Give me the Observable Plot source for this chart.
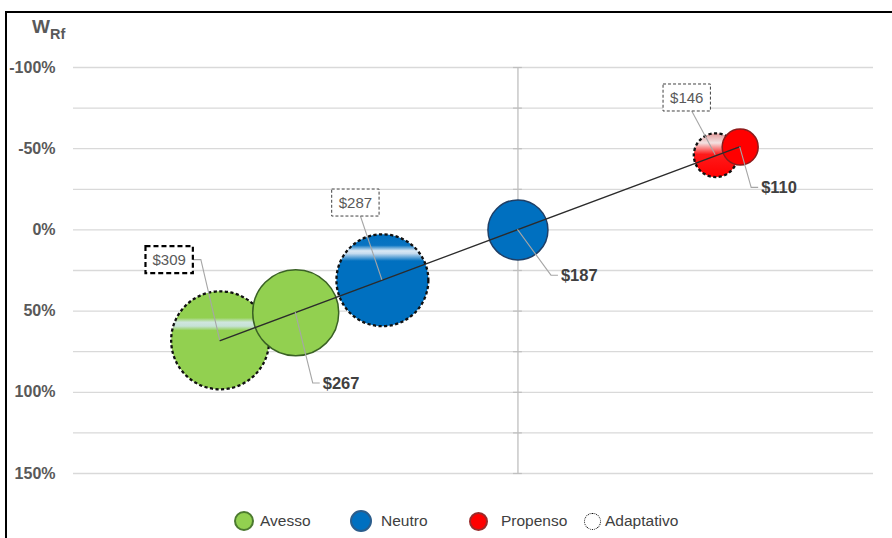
<!DOCTYPE html>
<html>
<head>
<meta charset="utf-8">
<script src="https://cdn.jsdelivr.net/npm/d3@7"></script>
<script src="https://cdn.jsdelivr.net/npm/@observablehq/plot@0.6"></script>
<style>
  html, body { margin: 0; padding: 0; background: #fff; }
  #chart { position: relative; width: 892px; height: 538px; overflow: hidden; font-family: "Liberation Sans", Arial, sans-serif; }
  #chart > svg { position: absolute; left: 0; top: 0; }
  #frame { position: absolute; left: 5px; top: 11px; width: 920px; height: 560px; border-left: 2px solid #000; border-top: 2px solid #000; box-sizing: border-box; pointer-events: none; }
  #ylab { position: absolute; left: 32px; top: 17px; font-weight: bold; color: #595959; font-size: 19px; line-height: 20px; }
  #ylab sub { font-size: 14.5px; vertical-align: -6px; }
  #legend { position: absolute; left: 0; top: 509px; width: 892px; height: 24px; font-size: 15.5px; color: #404040; }
  .item { position: absolute; top: 0; height: 24px; display: flex; align-items: center; }
  .sw { display: inline-block; border-radius: 50%; box-sizing: border-box; }
</style>
</head>
<body>
<div id="chart">
  <div id="frame"></div>
  <div id="ylab">W<sub>Rf</sub></div>
  <div id="legend"></div>
</div>
<script>
// ---------- data ----------
const categorias = ["Avesso", "Neutro", "Propenso"];
// série de contorno contínuo
const base_x = [-50, 0, 50];
const base_wrf = [51, 0, -51];
const base_valor = [267, 187, 110];
const base_tamanho = [77, 37.5, 13.5];
// série "Adaptativo" (contorno tracejado)
const adapt_x = [-67, -30.5, 44.5];
const adapt_wrf = [68, 31, -46];
const adapt_valor = [309, 287, 146];
const adapt_tamanho = [100, 88, 20];
// eixo
const yTicksGrid = [-100, -75, -50, -25, 0, 25, 50, 75, 100, 125, 150];
const yTicksLabel = [-100, -50, 0, 50, 100, 150];
const legendaAdapt = "Adaptativo";

// ---------- styles ----------
const cor = { Avesso: "#92D050", Neutro: "#0070C0", Propenso: "#FF0000" };
const contorno = { Avesso: "#3A6125", Neutro: "#1F3F66", Propenso: "#8E1B1B" };
const offAdapt = [ { dx: -51, dy: -80, leader: "right" }, { dx: -27, dy: -77, leader: "bottom" }, { dx: -29, dy: -57, leader: "bottom" } ];
const offBase = [ { dx: 27, dy: 71 }, { dx: 43, dy: 46 }, { dx: 21, dy: 41 } ];

const rows = [];
categorias.forEach((c, i) => rows.push({ cat: c, tipo: "adapt", i, x: adapt_x[i], y: adapt_wrf[i], valor: adapt_valor[i], tamanho: adapt_tamanho[i] }));
categorias.forEach((c, i) => rows.push({ cat: c, tipo: "base", i, x: base_x[i], y: base_wrf[i], valor: base_valor[i], tamanho: base_tamanho[i] }));

const marks = [
  Plot.gridY(yTicksGrid, { stroke: "#d9d9d9", strokeOpacity: 1, strokeWidth: 1.3 }),
  Plot.ruleX([0], { stroke: "#bfbfbf", strokeWidth: 1.3 }),
  Plot.ruleY(yTicksGrid, { y: d => d, x1: () => -1, x2: () => 1, stroke: "#bfbfbf", strokeWidth: 1.2 }),
  Plot.axisY(yTicksLabel, { tickSize: 0, tickPadding: 18, tickFormat: d => d + "%", fontSize: 16, fontWeight: "bold", color: "#595959", label: null })
];

rows.forEach(d => {
  const adapt = d.tipo === "adapt";
  const o = { x: "x", y: "y", r: "tamanho" };
  if (adapt) {
    Object.assign(o, { fill: `url(#grad-${d.cat})`, stroke: "#111", strokeWidth: 2.3, strokeDasharray: "3.2,2.4" });
  } else {
    Object.assign(o, { fill: cor[d.cat], stroke: contorno[d.cat], strokeWidth: 1.5 });
  }
  marks.push(Plot.dot([d], o));
});

marks.push(Plot.linearRegressionY(rows, { x: "x", y: "y", ci: 0, stroke: "#2b2b2b", strokeWidth: 1.3 }));

rows.forEach(d => {
  const adapt = d.tipo === "adapt";
  const off = (adapt ? offAdapt : offBase)[d.i];
  marks.push(Plot.text([d], {
    x: "x", y: "y", text: r => "$" + r.valor,
    dx: off.dx, dy: off.dy,
    textAnchor: adapt ? "middle" : "start",
    fontSize: adapt ? 15 : 16.5,
    fontWeight: adapt ? "normal" : "bold",
    fill: adapt ? "#595959" : "#404040",
    className: `rot-${d.tipo}-${d.i}`
  }));
});

const plot = Plot.plot({
  width: 892,
  height: 500,
  marginTop: 67,
  marginBottom: 27,
  marginLeft: 73,
  marginRight: 19,
  style: { fontFamily: "Liberation Sans, Arial, sans-serif", background: "transparent", overflow: "visible" },
  x: { domain: [-100, 80], axis: null },
  y: { domain: [-100, 150], reverse: true, axis: null },
  r: { type: "sqrt", domain: [0, 100], range: [0, 49] },
  marks
});

const chart = document.getElementById("chart");
chart.insertBefore(plot, chart.firstChild);
const svg = plot;
const NS = "http://www.w3.org/2000/svg";

// gradients (brilho) das bolhas adaptativas
const defs = document.createElementNS(NS, "defs");
defs.innerHTML = `
<linearGradient id="grad-Avesso" x1="0" y1="0" x2="0" y2="1">
  <stop offset="0" stop-color="#92D050"/><stop offset="0.27" stop-color="#92D050"/>
  <stop offset="0.315" stop-color="#cfe6de"/><stop offset="0.355" stop-color="#c6e2d6"/>
  <stop offset="0.40" stop-color="#92D050"/><stop offset="1" stop-color="#92D050"/>
</linearGradient>
<linearGradient id="grad-Neutro" x1="0" y1="0" x2="0" y2="1">
  <stop offset="0" stop-color="#0070C0"/><stop offset="0.12" stop-color="#0a74c2"/>
  <stop offset="0.18" stop-color="#dbe9f5"/><stop offset="0.21" stop-color="#c4dbef"/>
  <stop offset="0.29" stop-color="#0070C0"/><stop offset="1" stop-color="#0070C0"/>
</linearGradient>
<linearGradient id="grad-Propenso" x1="0" y1="0" x2="0" y2="1">
  <stop offset="0" stop-color="#e39a9a"/><stop offset="0.22" stop-color="#f3e2e2"/>
  <stop offset="0.48" stop-color="#ff1a1a"/><stop offset="1" stop-color="#ff0000"/>
</linearGradient>`;
svg.insertBefore(defs, svg.firstChild);

const sx = plot.scale("x"), sy = plot.scale("y");
const sr = svg.getBoundingClientRect();
const lead = document.createElementNS(NS, "g");
lead.setAttribute("fill", "none");
lead.setAttribute("stroke", "#a6a6a6");
lead.setAttribute("stroke-width", "1.1");
const boxes = document.createElementNS(NS, "g");
let firstLabel = null;

rows.forEach(d => {
  const g = svg.querySelector(`.rot-${d.tipo}-${d.i}`);
  if (!g) return;
  if (!firstLabel) firstLabel = g;
  const t = g.querySelector("text");
  const r = t.getBoundingClientRect();
  const L = r.left - sr.left, T = r.top - sr.top, R = r.right - sr.left, B = r.bottom - sr.top;
  const mid = (T + B) / 2;
  const cx = sx.apply(d.x), cy = sy.apply(d.y);
  const p = document.createElementNS(NS, "path");
  if (d.tipo === "adapt") {
    const bx = L - 7, by = T - 5, bw = (R - L) + 14, bh = (B - T) + 10;
    const rect = document.createElementNS(NS, "rect");
    rect.setAttribute("x", bx); rect.setAttribute("y", by);
    rect.setAttribute("width", bw); rect.setAttribute("height", bh);
    rect.setAttribute("fill", "#fff");
    if (d.i === 0) {
      rect.setAttribute("stroke", "#000"); rect.setAttribute("stroke-width", "2.2"); rect.setAttribute("stroke-dasharray", "5,3");
    } else {
      rect.setAttribute("stroke", "#404040"); rect.setAttribute("stroke-width", "1"); rect.setAttribute("stroke-dasharray", "3,2");
    }
    boxes.appendChild(rect);
    const off = offAdapt[d.i];
    if (off.leader === "right") {
      const sxp = bx + bw;
      p.setAttribute("d", `M${sxp},${mid}H${sxp + 8}L${cx},${cy}`);
    } else {
      p.setAttribute("d", `M${bx + bw / 2 + 5},${by + bh}L${cx},${cy}`);
    }
  } else {
    p.setAttribute("d", `M${cx},${cy}L${L - 10},${mid}H${L - 3}`);
  }
  lead.appendChild(p);
});
if (firstLabel) { svg.insertBefore(lead, firstLabel); svg.insertBefore(boxes, firstLabel); }
else { svg.appendChild(lead); svg.appendChild(boxes); }

// ---------- legenda ----------
const legend = document.getElementById("legend");
const legItems = [
  { left: 234, d: 20, gap: 6, fill: cor[categorias[0]], border: "2px solid #4c7a30", text: categorias[0] },
  { left: 350, d: 22, gap: 9, fill: cor[categorias[1]], border: "2px solid #2a5d8c", text: categorias[1] },
  { left: 469, d: 19, gap: 13, fill: cor[categorias[2]], border: "2px solid #9a2a2a", text: categorias[2] },
  { left: 584, d: 17, gap: 4, fill: "#fff", border: "1.5px dotted #000", text: legendaAdapt }
];
legItems.forEach(it => {
  const div = document.createElement("div");
  div.className = "item";
  div.style.left = it.left + "px";
  const sw = document.createElement("span");
  sw.className = "sw";
  sw.style.width = it.d + "px"; sw.style.height = it.d + "px";
  sw.style.background = it.fill; sw.style.border = it.border;
  sw.style.marginRight = it.gap + "px";
  const tx = document.createElement("span");
  tx.textContent = it.text;
  div.appendChild(sw); div.appendChild(tx);
  legend.appendChild(div);
});
</script>
</body>
</html>
